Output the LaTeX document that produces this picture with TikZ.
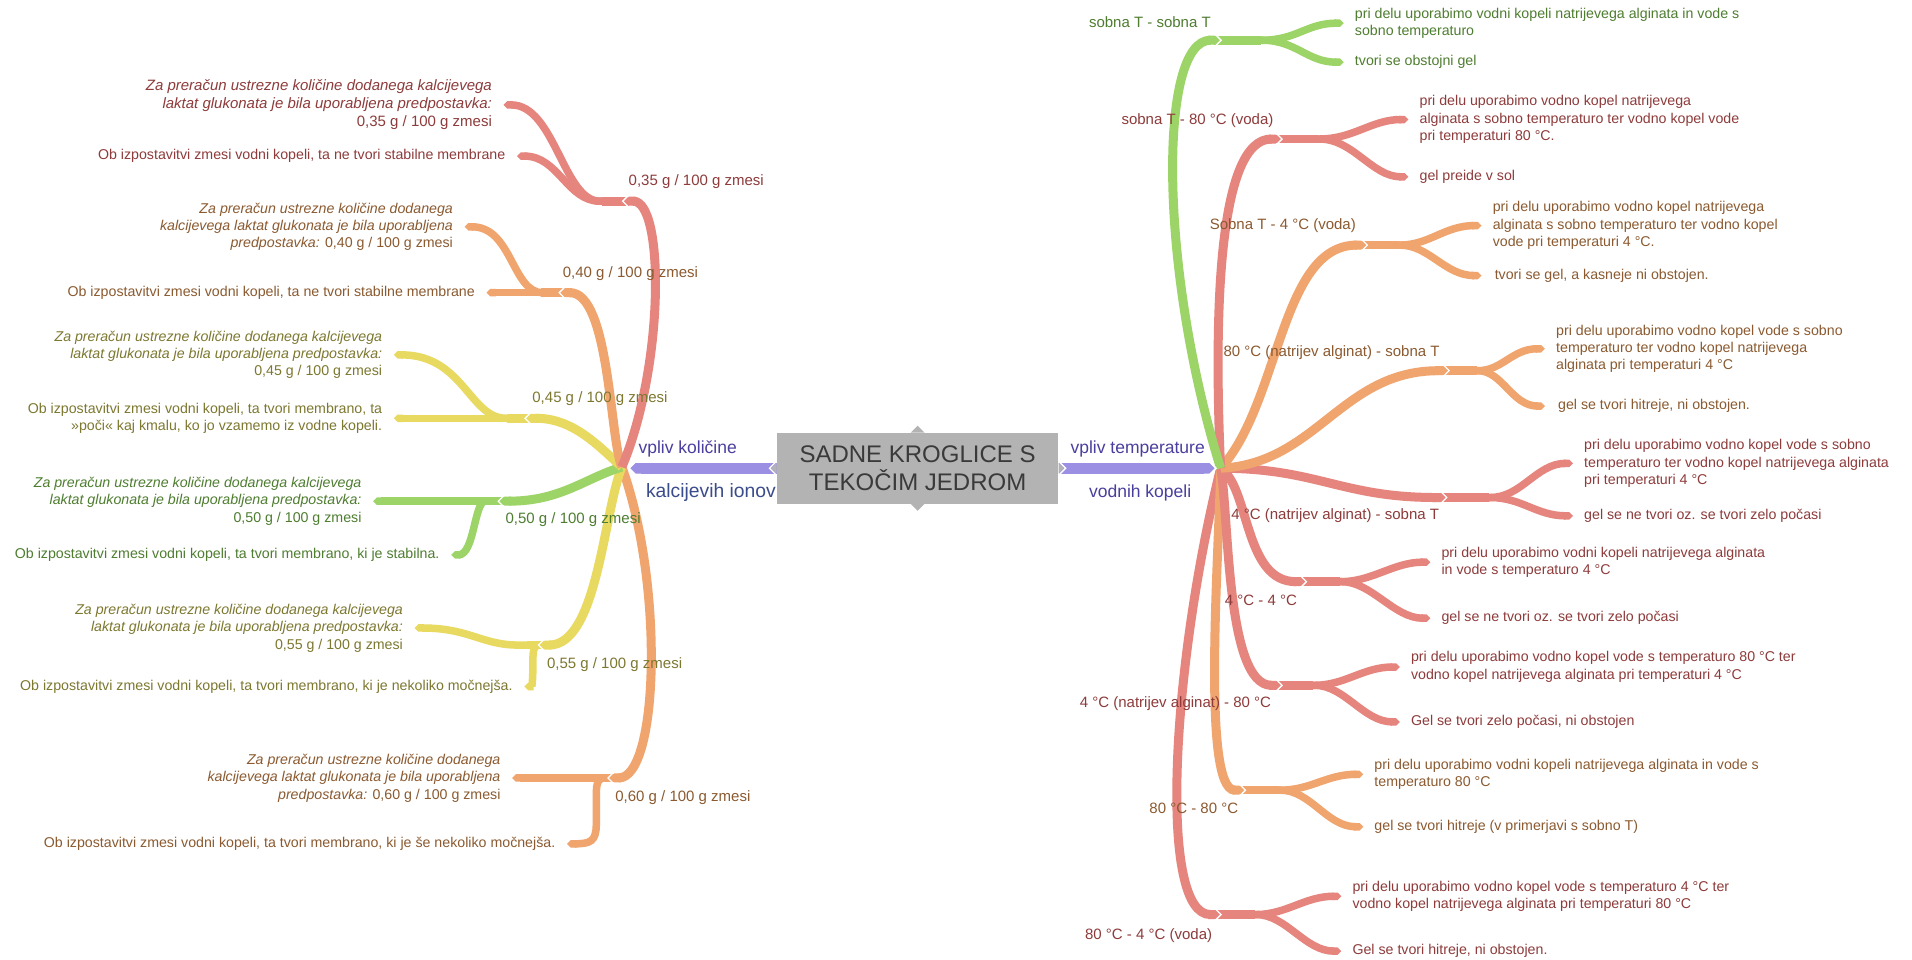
\documentclass[tikz,border=0pt]{standalone}
\usepackage{fontspec}
\setmainfont{Liberation Sans}
\usetikzlibrary{arrows.meta}
\definecolor{cred}{HTML}{E5857E}
\definecolor{corg}{HTML}{F0A46E}
\definecolor{cyel}{HTML}{E8D960}
\definecolor{cgrn}{HTML}{9CD468}
\definecolor{cpur}{HTML}{9A8FE2}
\definecolor{tred}{HTML}{8E3B3B}
\definecolor{torg}{HTML}{8B5A30}
\definecolor{tyel}{HTML}{7D7830}
\definecolor{tgrn}{HTML}{4E7D30}
\definecolor{tpur}{HTML}{4A3F9E}
\definecolor{tblu}{HTML}{3B4C8C}
\definecolor{cbox}{HTML}{B3B3B3}
\definecolor{tbox}{HTML}{3A3A3A}
\newcommand\chevL[1]{\draw[chev] ([shift={(5.3pt,7pt)}]#1) -- ([shift={(-1.7pt,0pt)}]#1) -- ([shift={(5.3pt,-7pt)}]#1);}
\newcommand\chevR[1]{\draw[chev] ([shift={(-5.3pt,7pt)}]#1) -- ([shift={(1.7pt,0pt)}]#1) -- ([shift={(-5.3pt,-7pt)}]#1);}
\newcommand\chevLb[1]{\draw[chev] ([shift={(6pt,7.7pt)}]#1) -- ([shift={(-1.7pt,0pt)}]#1) -- ([shift={(6pt,-7.7pt)}]#1);}
\newcommand\chevRb[1]{\draw[chev] ([shift={(-6pt,7.7pt)}]#1) -- ([shift={(1.7pt,0pt)}]#1) -- ([shift={(-6pt,-7.7pt)}]#1);}
\begin{document}
\begin{tikzpicture}[x=1.2194pt,y=-1.2194pt,
  lf/.style={line width=7.5pt,-{Triangle Cap[]}},
  stem/.style={line width=8.6pt},
  bw/.style={line width=9pt,-{Triangle Cap[]}},
  pw/.style={line width=10.5pt,cpur,-{Triangle Cap[]}},
  chev/.style={draw=white,line width=1.3pt},
  tl/.style={anchor=east,align=right,inner sep=0pt,font=\fontsize{14.2}{17.4}\selectfont},
  tr/.style={anchor=west,align=left,inner sep=0pt,font=\fontsize{14.2}{17.4}\selectfont},
  bl/.style={inner sep=0pt,font=\fontsize{15}{18}\selectfont},
  ml/.style={inner sep=0pt,font=\fontsize{17.5}{21}\selectfont},
  ctr/.style={rectangle,fill=cbox,minimum width=281.7pt,minimum height=70.7pt,inner sep=0pt,align=center,text=tbox,font=\fontsize{24}{28}\selectfont}]
\fill[white] (0,0) rectangle (1568,787);
\useasboundingbox (0,0) rectangle (1568,787);
% hubs and joints
\coordinate (HL) at (510,383);
\coordinate (HR) at (1001,384);
\coordinate (PL) at (517,384);
\coordinate (PR) at (996,384);
\coordinate (J1) at (512,165);
\coordinate (J2) at (460,240);
\coordinate (J3) at (432,343);
\coordinate (J4) at (410,411);
\coordinate (J5) at (443,529);
\coordinate (J6) at (500,638);
\coordinate (K1) at (1000,33);
\coordinate (K2) at (1050,114);
\coordinate (K3) at (1120,201);
\coordinate (K4) at (1187,304);
\coordinate (K5) at (1185,408);
\coordinate (K6) at (1070,477);
\coordinate (K7) at (1050,562);
\coordinate (K8) at (1020,648);
\coordinate (K9) at (1000,750);
% leaf tips
\coordinate (T1a) at (413,86);  \coordinate (T1b) at (424,128);
\coordinate (T2a) at (381,186); \coordinate (T2b) at (399,240);
\coordinate (T3a) at (323,291); \coordinate (T3b) at (323,343);
\coordinate (T4a) at (306,411); \coordinate (T4b) at (370,455);
\coordinate (T5a) at (340,515); \coordinate (T5b) at (430,563);
\coordinate (T6a) at (420,638); \coordinate (T6b) at (465,692);
\coordinate (U1a) at (1102,19);  \coordinate (U1b) at (1102,51);
\coordinate (U2a) at (1155,98);  \coordinate (U2b) at (1155,145);
\coordinate (U3a) at (1215,185); \coordinate (U3b) at (1215,226);
\coordinate (U4a) at (1267,286); \coordinate (U4b) at (1267,333);
\coordinate (U5a) at (1290,380); \coordinate (U5b) at (1290,423);
\coordinate (U6a) at (1173,461); \coordinate (U6b) at (1173,507);
\coordinate (U7a) at (1148,547); \coordinate (U7b) at (1148,592);
\coordinate (U8a) at (1118,635); \coordinate (U8b) at (1118,678);
\coordinate (U9a) at (1100,735); \coordinate (U9b) at (1100,780);
% ---------- left leaf brackets
\draw[lf,cred] ([xshift=5pt]J1) -- (492,165) .. controls (462,165) and (455,86) .. (T1a);
\draw[lf,cred] ([xshift=5pt]J1) -- (492,165) .. controls (465,165) and (458,128) .. (T1b);
\draw[stem,cred] ([xshift=5pt]J1) -- (494,165);
\draw[lf,corg] ([xshift=5pt]J2) -- (445,240) .. controls (420,240) and (420,186) .. (T2a);
\draw[lf,corg] ([xshift=5pt]J2) -- (T2b);
\draw[stem,corg] ([xshift=5pt]J2) -- (444,240);
\draw[lf,cyel] ([xshift=5pt]J3) -- (415,343) .. controls (385,343) and (380,291) .. (T3a);
\draw[lf,cyel] ([xshift=5pt]J3) -- (T3b);
\draw[stem,cyel] ([xshift=5pt]J3) -- (416,343);
\draw[lf,cgrn] ([xshift=5pt]J4) -- (T4a);
\draw[lf,cgrn] ([xshift=5pt]J4) -- (398,411) .. controls (389,411) and (389,455) .. (T4b);
\draw[stem,cgrn] ([xshift=5pt]J4) -- (398,411);
\draw[lf,cyel] ([xshift=5pt]J5) -- (425,529) .. controls (395,529) and (385,515) .. (T5a);
\draw[lf,cyel] ([xshift=5pt]J5) -- (442,529) .. controls (437,529) and (437,536) .. (437,545) .. controls (437,560) and (436,563) .. (T5b);
\draw[stem,cyel] ([xshift=5pt]J5) -- (432,529);
\draw[lf,corg] ([xshift=5pt]J6) -- (T6a);
\draw[lf,corg] ([xshift=5pt]J6) -- (496,638) .. controls (489,638) and (489,645) .. (489,655) -- (489,676) .. controls (489,690) and (484,692) .. (T6b);
\draw[stem,corg] ([xshift=5pt]J6) -- (488,638);
% ---------- right leaf brackets
\draw[lf,cgrn] ([xshift=-5pt]K1) -- (1035,33) .. controls (1063,33) and (1072,19) .. (U1a);
\draw[lf,cgrn] ([xshift=-5pt]K1) -- (1035,33) .. controls (1063,33) and (1072,51) .. (U1b);
\draw[stem,cgrn] ([xshift=-5pt]K1) -- (1034,33);
\draw[lf,cred] ([xshift=-5pt]K2) -- (1082,114) .. controls (1110,114) and (1125,98) .. (U2a);
\draw[lf,cred] ([xshift=-5pt]K2) -- (1082,114) .. controls (1110,114) and (1125,145) .. (U2b);
\draw[stem,cred] ([xshift=-5pt]K2) -- (1081,114);
\draw[lf,corg] ([xshift=-5pt]K3) -- (1148,201) .. controls (1172,201) and (1185,185) .. (U3a);
\draw[lf,corg] ([xshift=-5pt]K3) -- (1148,201) .. controls (1172,201) and (1185,226) .. (U3b);
\draw[stem,corg] ([xshift=-5pt]K3) -- (1147,201);
\draw[lf,corg] ([xshift=-5pt]K4) -- (1212,304) .. controls (1232,304) and (1240,286) .. (U4a);
\draw[lf,corg] ([xshift=-5pt]K4) -- (1212,304) .. controls (1232,304) and (1240,333) .. (U4b);
\draw[stem,corg] ([xshift=-5pt]K4) -- (1211,304);
\draw[lf,cred] ([xshift=-5pt]K5) -- (1222,408) .. controls (1248,408) and (1260,380) .. (U5a);
\draw[lf,cred] ([xshift=-5pt]K5) -- (1222,408) .. controls (1248,408) and (1260,423) .. (U5b);
\draw[stem,cred] ([xshift=-5pt]K5) -- (1221,408);
\draw[lf,cred] ([xshift=-5pt]K6) -- (1100,477) .. controls (1125,477) and (1143,461) .. (U6a);
\draw[lf,cred] ([xshift=-5pt]K6) -- (1100,477) .. controls (1125,477) and (1143,507) .. (U6b);
\draw[stem,cred] ([xshift=-5pt]K6) -- (1099,477);
\draw[lf,cred] ([xshift=-5pt]K7) -- (1078,562) .. controls (1103,562) and (1118,547) .. (U7a);
\draw[lf,cred] ([xshift=-5pt]K7) -- (1078,562) .. controls (1103,562) and (1118,592) .. (U7b);
\draw[stem,cred] ([xshift=-5pt]K7) -- (1077,562);
\draw[lf,corg] ([xshift=-5pt]K8) -- (1050,648) .. controls (1075,648) and (1088,635) .. (U8a);
\draw[lf,corg] ([xshift=-5pt]K8) -- (1050,648) .. controls (1075,648) and (1088,678) .. (U8b);
\draw[stem,corg] ([xshift=-5pt]K8) -- (1049,648);
\draw[lf,cred] ([xshift=-5pt]K9) -- (1030,750) .. controls (1055,750) and (1070,735) .. (U9a);
\draw[lf,cred] ([xshift=-5pt]K9) -- (1030,750) .. controls (1055,750) and (1070,780) .. (U9b);
\draw[stem,cred] ([xshift=-5pt]K9) -- (1029,750);
% ---------- left branches
\draw[bw,corg] (HL) .. controls (545,480) and (540,638) .. (J6);
\draw[bw,cyel] (HL) .. controls (495,420) and (490,529) .. (J5);
\draw[bw,cgrn] (HL) .. controls (480,392) and (460,411) .. (J4);
\draw[bw,cyel] (HL) .. controls (490,365) and (470,343) .. (J3);
\draw[bw,corg] (HL) .. controls (500,360) and (500,240) .. (J2);
\draw[bw,cred] (HL) .. controls (545,300) and (545,165) .. (J1);
% ---------- right branches
\draw[bw,cred] (HR) .. controls (960,550) and (950,750) .. (K9);
\draw[bw,corg] (HR) .. controls (1000,450) and (985,648) .. (K8);
\draw[bw,cred] (HR) .. controls (1008,420) and (1005,562) .. (K7);
\draw[bw,cred] (HR) .. controls (1025,400) and (1020,477) .. (K6);
\draw[bw,cred] (HR) .. controls (1080,384) and (1100,408) .. (K5);
\draw[bw,corg] (HR) .. controls (1080,380) and (1100,304) .. (K4);
\draw[bw,corg] (HR) .. controls (1050,330) and (1050,201) .. (K3);
\draw[bw,cred] (HR) .. controls (995,250) and (1000,114) .. (K2);
\draw[bw,cgrn] (HR) .. controls (950,220) and (950,33) .. (K1);
% joint gaps
\chevL{J1}\chevL{J2}\chevL{J3}\chevL{J4}\chevL{J5}\chevL{J6}
\chevR{K1}\chevR{K2}\chevR{K3}\chevR{K4}\chevR{K5}\chevR{K6}\chevR{K7}\chevR{K8}\chevR{K9}
% ---------- centre
\node[ctr] (c) at (752.5,384) {SADNE KROGLICE S\\TEKOČIM JEDROM};
\draw[pw] (c.west) -- (PL);
\draw[pw] (c.east) -- (PR);
\fill[cbox] ([yshift=5.3pt]c.west) -- ([xshift=-5.3pt]c.west) -- ([yshift=-5.3pt]c.west) -- cycle;
\fill[cbox] ([yshift=5.3pt]c.east) -- ([xshift=5.3pt]c.east) -- ([yshift=-5.3pt]c.east) -- cycle;
\fill[cbox] ([xshift=-7pt]c.north) -- ([yshift=7pt]c.north) -- ([xshift=7pt]c.north) -- cycle;
\fill[cbox] ([xshift=-7pt]c.south) -- ([yshift=-7pt]c.south) -- ([xshift=7pt]c.south) -- cycle;
\draw[chev] ([shift={(0pt,7pt)}]c.west) -- ([xshift=-7pt]c.west) -- ([shift={(0pt,-7pt)}]c.west);
\draw[chev] ([shift={(0pt,7pt)}]c.east) -- ([xshift=7pt]c.east) -- ([shift={(0pt,-7pt)}]c.east);
\chevLb{PL}\chevRb{PR}
\node[ml,text=tpur] (ml1) at (564,368) {vpliv količine};
\node[ml,text=tblu,font=\fontsize{19.3}{22}\selectfont] (ml2) at (583,404) {kalcijevih ionov};
\node[ml,text=tpur] (mr1) at (933,368) {vpliv temperature};
\node[ml,text=tpur] (mr2) at (935,404) {vodnih kopeli};
% ---------- branch labels left
\node[bl,text=tred] (b1) at (571,149) {0,35 g / 100 g zmesi};
\node[bl,text=torg] (b2) at (517,224) {0,40 g / 100 g zmesi};
\node[bl,text=tyel] (b3) at (492,327) {0,45 g / 100 g zmesi};
\node[bl,text=tgrn] (b4) at (470,426) {0,50 g / 100 g zmesi};
\node[bl,text=tyel] (b5) at (504,545) {0,55 g / 100 g zmesi};
\node[bl,text=torg] (b6) at (560,654) {0,60 g / 100 g zmesi};
% ---------- branch labels right
\node[bl,text=tgrn] (r1) at (943,18) {sobna T - sobna T};
\node[bl,text=tred] (r2) at (982,99) {sobna T - 80 °C (voda)};
\node[bl,text=torg] (r3) at (1052,185) {Sobna T - 4 °C (voda)};
\node[bl,text=torg] (r4) at (1092,289) {80 °C (natrijev alginat) - sobna T};
\node[bl,text=tred] (r5) at (1095,423) {4 °C (natrijev alginat) - sobna T};
\node[bl,text=tred] (r6) at (1034,492) {4 °C - 4 °C};
\node[bl,text=tred] (r7) at (964,577) {4 °C (natrijev alginat) - 80 °C};
\node[bl,text=torg] (r8) at (979,663) {80 °C - 80 °C};
\node[bl,text=tred] (r9) at (942,767) {80 °C - 4 °C (voda)};
% ---------- left leaf texts
\node[tl,text=tred,font=\fontsize{15}{17.8}\selectfont] (n1a) at ([xshift=-11.5pt]T1a) {\textit{Za preračun ustrezne količine dodanega kalcijevega}\\\textit{laktat glukonata je bila uporabljena predpostavka:}\\0,35 g / 100 g zmesi};
\node[tl,text=tred] (n1b) at ([xshift=-11.5pt]T1b) {Ob izpostavitvi zmesi vodni kopeli, ta ne tvori stabilne membrane};
\node[tl,text=torg] (n2a) at ([xshift=-11.5pt]T2a) {\textit{Za preračun ustrezne količine dodanega}\\\textit{kalcijevega laktat glukonata je bila uporabljena}\\\textit{predpostavka:} 0,40 g / 100 g zmesi};
\node[tl,text=torg] (n2b) at ([xshift=-11.5pt]T2b) {Ob izpostavitvi zmesi vodni kopeli, ta ne tvori stabilne membrane};
\node[tl,text=tyel] (n3a) at ([xshift=-11.5pt]T3a) {\textit{Za preračun ustrezne količine dodanega kalcijevega}\\\textit{laktat glukonata je bila uporabljena predpostavka:}\\0,45 g / 100 g zmesi};
\node[tl,text=tyel] (n3b) at ([xshift=-11.5pt]T3b) {Ob izpostavitvi zmesi vodni kopeli, ta tvori membrano, ta\\»poči« kaj kmalu, ko jo vzamemo iz vodne kopeli.};
\node[tl,text=tgrn] (n4a) at ([xshift=-11.5pt]T4a) {\textit{Za preračun ustrezne količine dodanega kalcijevega}\\\textit{laktat glukonata je bila uporabljena predpostavka:}\\0,50 g / 100 g zmesi};
\node[tl,text=tgrn] (n4b) at ([xshift=-11.5pt]T4b) {Ob izpostavitvi zmesi vodni kopeli, ta tvori membrano, ki je stabilna.};
\node[tl,text=tyel] (n5a) at ([xshift=-11.5pt]T5a) {\textit{Za preračun ustrezne količine dodanega kalcijevega}\\\textit{laktat glukonata je bila uporabljena predpostavka:}\\0,55 g / 100 g zmesi};
\node[tl,text=tyel] (n5b) at ([xshift=-11.5pt]T5b) {Ob izpostavitvi zmesi vodni kopeli, ta tvori membrano, ki je nekoliko močnejša.};
\node[tl,text=torg] (n6a) at ([xshift=-11.5pt]T6a) {\textit{Za preračun ustrezne količine dodanega}\\\textit{kalcijevega laktat glukonata je bila uporabljena}\\\textit{predpostavka:} 0,60 g / 100 g zmesi};
\node[tl,text=torg] (n6b) at ([xshift=-11.5pt]T6b) {Ob izpostavitvi zmesi vodni kopeli, ta tvori membrano, ki je še nekoliko močnejša.};
% ---------- right leaf texts
\node[tr,text=tgrn] (m1a) at ([xshift=11pt]U1a) {pri delu uporabimo vodni kopeli natrijevega alginata in vode s\\sobno temperaturo};
\node[tr,text=tgrn] (m1b) at ([xshift=11pt]U1b) {tvori se obstojni gel};
\node[tr,text=tred] (m2a) at ([xshift=11pt]U2a) {pri delu uporabimo vodno kopel natrijevega\\alginata s sobno temperaturo ter vodno kopel vode\\pri temperaturi 80 °C.};
\node[tr,text=tred] (m2b) at ([xshift=11pt]U2b) {gel preide v sol};
\node[tr,text=torg] (m3a) at ([xshift=11pt]U3a) {pri delu uporabimo vodno kopel natrijevega\\alginata s sobno temperaturo ter vodno kopel\\vode pri temperaturi 4 °C.};
\node[tr,text=torg] (m3b) at ([xshift=13pt]U3b) {tvori se gel, a kasneje ni obstojen.};
\node[tr,text=torg] (m4a) at ([xshift=11pt]U4a) {pri delu uporabimo vodno kopel vode s sobno\\temperaturo ter vodno kopel natrijevega\\alginata pri temperaturi 4 °C};
\node[tr,text=torg] (m4b) at ([xshift=13pt]U4b) {gel se tvori hitreje, ni obstojen.};
\node[tr,text=tred] (m5a) at ([xshift=11pt]U5a) {pri delu uporabimo vodno kopel vode s sobno\\temperaturo ter vodno kopel natrijevega alginata\\pri temperaturi 4 °C};
\node[tr,text=tred] (m5b) at ([xshift=11pt]U5b) {gel se ne tvori oz. se tvori zelo počasi};
\node[tr,text=tred] (m6a) at ([xshift=11pt]U6a) {pri delu uporabimo vodni kopeli natrijevega alginata\\in vode s temperaturo 4 °C};
\node[tr,text=tred] (m6b) at ([xshift=11pt]U6b) {gel se ne tvori oz. se tvori zelo počasi};
\node[tr,text=tred] (m7a) at ([xshift=11pt]U7a) {pri delu uporabimo vodno kopel vode s temperaturo 80 °C ter\\vodno kopel natrijevega alginata pri temperaturi 4 °C};
\node[tr,text=tred] (m7b) at ([xshift=11pt]U7b) {Gel se tvori zelo počasi, ni obstojen};
\node[tr,text=torg] (m8a) at ([xshift=11pt]U8a) {pri delu uporabimo vodni kopeli natrijevega alginata in vode s\\temperaturo 80 °C};
\node[tr,text=torg] (m8b) at ([xshift=11pt]U8b) {gel se tvori hitreje (v primerjavi s sobno T)};
\node[tr,text=tred] (m9a) at ([xshift=11pt]U9a) {pri delu uporabimo vodno kopel vode s temperaturo 4 °C ter\\vodno kopel natrijevega alginata pri temperaturi 80 °C};
\node[tr,text=tred] (m9b) at ([xshift=11pt]U9b) {Gel se tvori hitreje, ni obstojen.};
\end{tikzpicture}
\end{document}
